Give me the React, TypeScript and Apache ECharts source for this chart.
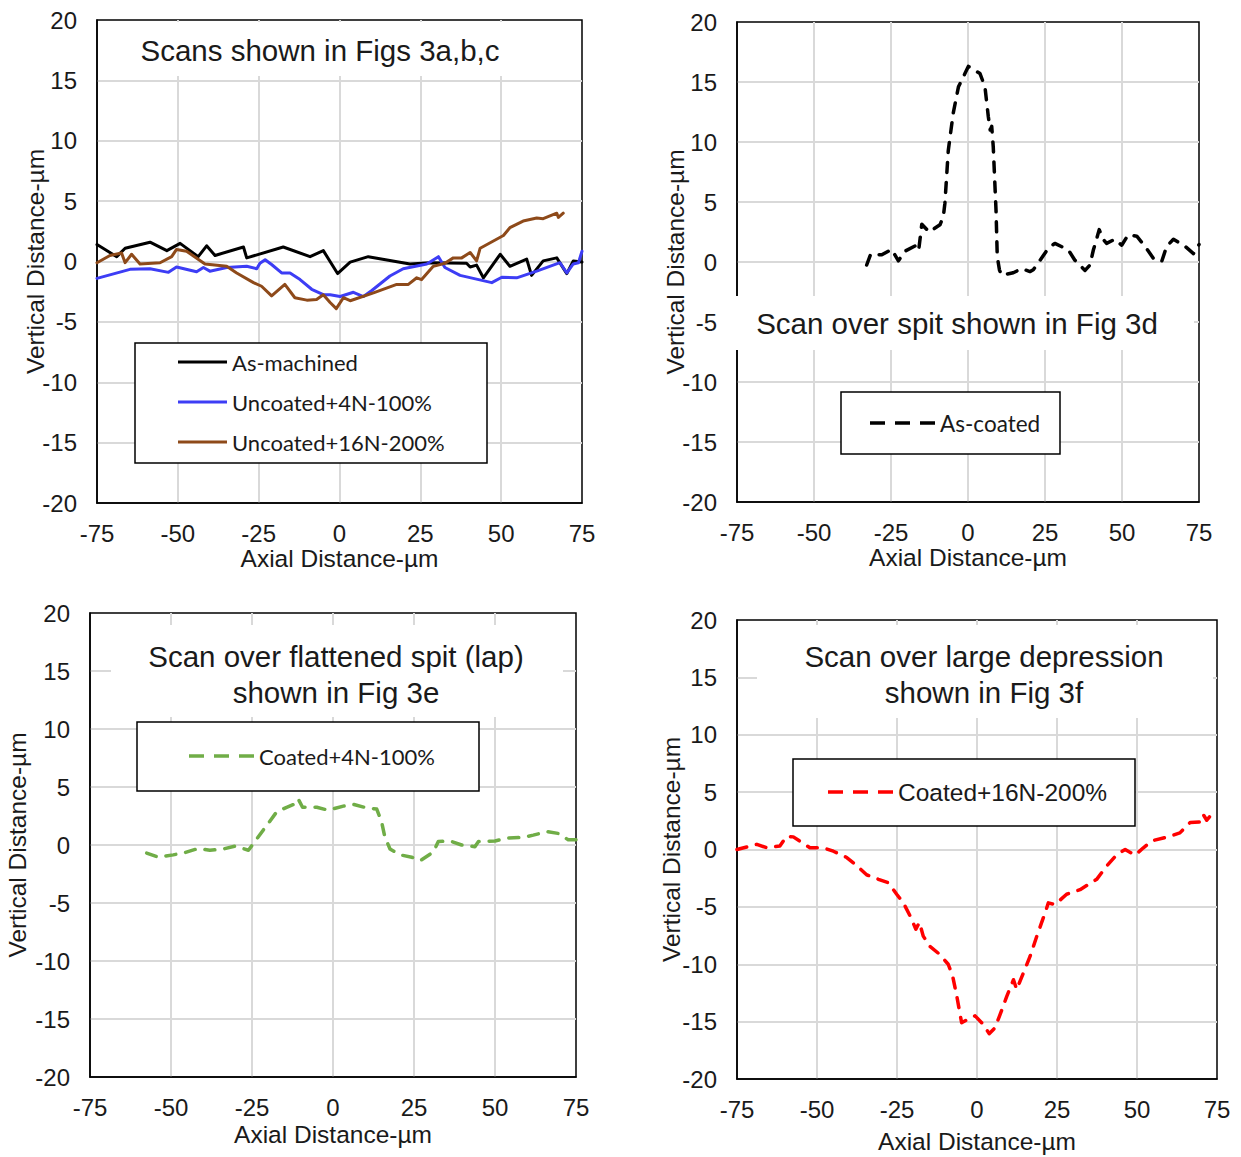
import React, { useEffect, useRef } from "react";
import * as echarts from "echarts";

// ---------- Data (µm) ----------
const xTickMin = -75;
const xTickMax = 75;
const yTickMin = -20;
const yTickMax = 20;

const asMachinedX = [-75, -68.9, -66.3, -58.6, -53.4, -49.3, -43.7, -41.1, -38.5, -29.7, -28.7, -17.4, -9.1, -5, -0.6, 3.3, 8.9, 21.8, 28, 39.3, 40.4, 42.4, 44.5, 49.7, 52.7, 57.9, 59.4, 63, 67.2, 70.3, 72.3, 75];
const asMachinedY = [1.4, 0.4, 1.1, 1.6, 0.9, 1.5, 0.4, 1.3, 0.5, 1.2, 0.3, 1.2, 0.4, 0.9, -1.0, -0.05, 0.4, -0.2, -0.1, -0.15, -0.45, -0.3, -1.35, 0.6, -0.4, 0.2, -1.15, 0.05, 0.3, -1.0, 0.05, -0.05];

const uncoated4NX = [-75, -64.8, -58.6, -52.9, -50.4, -44.2, -42.1, -40.1, -34.9, -28.7, -25.6, -24.6, -23, -21, -17.9, -15.3, -12.2, -8.6, -5, -2.9, 0.2, 4.3, 7.4, 10, 15.6, 19.7, 27, 30.6, 32.6, 37.3, 47.1, 50.2, 54.8, 61, 68.2, 70.3, 72.3, 73.9, 75];
const uncoated4NY = [-1.4, -0.65, -0.6, -0.9, -0.45, -0.85, -0.5, -0.8, -0.5, -0.4, -0.6, -0.15, 0.15, -0.25, -0.95, -0.95, -1.5, -2.3, -2.75, -2.75, -2.9, -2.55, -2.9, -2.4, -1.2, -0.6, -0.2, 0.4, -0.5, -1.15, -1.75, -1.3, -1.35, -0.8, -0.1, -0.95, -0.2, -0.1, 0.85];

const uncoated16NX = [-75, -71, -67.4, -66.3, -64.3, -61.7, -55.5, -51.9, -50.4, -47.3, -41.6, -34.9, -31.8, -26.6, -24.1, -21, -16.9, -13.8, -10.1, -7.1, -5, -2.9, -1, 1.2, 3.3, 10.5, 17.7, 21.3, 23.9, 25.4, 29, 32.6, 35.2, 37.8, 40.4, 42.4, 43.5, 50.7, 52.7, 56.8, 61, 63, 67.2, 67.7, 69.2];
const uncoated16NY = [-0.1, 0.5, 0.7, -0.1, 0.6, -0.2, -0.1, 0.4, 1.0, 0.85, -0.2, -0.4, -0.95, -1.75, -2.05, -2.85, -1.9, -3.0, -3.2, -3.15, -2.75, -3.4, -3.9, -3.0, -3.25, -2.6, -1.9, -1.9, -1.35, -1.5, -0.4, -0.15, 0.3, 0.3, 0.75, 0.05, 1.1, 2.15, 2.8, 3.35, 3.6, 3.55, 4.0, 3.65, 4.0];

const asCoatedX = [-32.9, -31.6, -28, -24.8, -22.6, -20.5, -16.7, -16, -15, -12.6, -9.1, -8, -7.5, -6.4, -4.8, -3.1, -1, 0.1, 3.9, 5.5, 6.6, 7.2, 7.7, 8.2, 9.1, 9.5, 10.2, 10.9, 14.7, 17.4, 20.1, 21.2, 23.4, 26.1, 28.2, 32.6, 34.7, 38, 39.6, 40.7, 41.8, 42.6, 43.7, 45, 47.7, 49.9, 52, 54.8, 57.5, 60.2, 62.9, 64.5, 66.7, 70.5, 73.2, 75];
const asCoatedY = [-0.25, 0.65, 0.6, 1.05, 0.1, 0.9, 1.4, 1.0, 3.15, 2.5, 3.1, 3.8, 4.9, 9.3, 12.4, 14.6, 15.7, 16.3, 15.7, 14.6, 12.1, 11.0, 11.3, 9.6, 4.3, 0.45, -0.65, -1.1, -0.9, -0.55, -0.8, -0.65, 0.15, 1.15, 1.55, 1.0, 0.15, -0.7, -0.25, 1.0, 1.95, 2.7, 1.95, 1.55, 1.9, 1.4, 2.25, 2.15, 1.3, 0.3, 0.05, 1.3, 1.9, 1.3, 0.7, 1.45];

const coated4NX = [-57.5, -53.9, -49.3, -45.7, -41.6, -38, -33.9, -30.2, -26.1, -24.1, -21.5, -20, -17.4, -14.3, -11.2, -10.7, -9.4, -5, -1.5, 3.2, 6.3, 10.4, 13.5, 15, 16, 17.6, 20.7, 24.3, 26.9, 31, 32.5, 36.1, 39.7, 43.8, 44.9, 50, 53.6, 58.7, 61.8, 66, 69.5, 72.6, 75];
const coated4NY = [-0.7, -1.05, -0.85, -0.65, -0.3, -0.45, -0.35, -0.1, -0.45, 0.3, 1.3, 1.85, 2.85, 3.25, 3.6, 3.95, 3.25, 3.25, 3.0, 3.35, 3.5, 3.2, 3.1, 2.0, 0.7, -0.35, -0.85, -1.05, -1.35, -0.6, 0.3, 0.35, 0, -0.15, 0.3, 0.35, 0.6, 0.65, 0.85, 1.15, 1.0, 0.45, 0.45];

const coated16NX = [-75, -68.8, -65.7, -61.6, -59.5, -57.4, -52.2, -48, -44.9, -40.7, -37.6, -34.5, -30.8, -27.7, -25.1, -23, -20.9, -19.1, -18, -16.8, -14.7, -11.6, -9, -7.6, -6.3, -4.8, -2.2, -0.6, 2, 3.8, 5.6, 7.2, 9.3, 11.4, 12.4, 14.5, 16.6, 18.7, 21.3, 22.3, 24.4, 28, 32.2, 37.4, 40.5, 43.7, 46.3, 49.4, 52, 54.6, 60.3, 63.4, 66.6, 69.7, 70.7, 71.8, 72.8];
const coated16NY = [0, 0.45, 0.15, 0.3, 1.15, 1.1, 0.15, 0.15, -0.15, -0.7, -1.4, -2.2, -2.6, -2.9, -3.9, -4.65, -5.8, -6.95, -6.35, -7.55, -8.45, -9.15, -10.0, -11.05, -12.8, -15.1, -14.7, -14.5, -15.25, -16.05, -15.55, -14.4, -12.8, -11.35, -12.2, -10.75, -9.3, -7.55, -5.5, -4.65, -4.8, -3.9, -3.5, -2.6, -1.45, -0.45, 0, -0.5, 0.15, 0.75, 1.15, 1.45, 2.35, 2.4, 3.05, 2.55, 2.9];

const xName = "Axial Distance-µm";
const yName = "Vertical Distance-µm";

const zip = (xs: number[], ys: number[]) => xs.map((x, i) => [x, ys[i]]);

const ARIAL = '"Liberation Sans", Arial, sans-serif';
const CALIBRI = 'Lato, "Open Sans", sans-serif';
const TXT = "#1a1a1a";

// ---------- Layout ----------
const grids = [
  { left: 97, top: 20, width: 485, height: 483, xGap: 43, yGap: 49 },
  { left: 737, top: 22, width: 462, height: 480, xGap: 43, yGap: 49 },
  { left: 90, top: 613, width: 486, height: 464, xGap: 45, yGap: 60 },
  { left: 737, top: 620, width: 480, height: 459, xGap: 50, yGap: 53 },
];

function buildOption() {
  const xAxes = grids.map((g, i) => ({
    type: "value",
    gridIndex: i,
    min: xTickMin,
    max: xTickMax,
    interval: 25,
    name: xName,
    nameLocation: "middle",
    nameGap: g.xGap,
    nameMoveOverlap: false,
    nameTextStyle: { fontFamily: ARIAL, fontSize: 24.5, color: TXT },
    axisLine: { show: true, onZero: false, lineStyle: { color: "#000", width: 1.5 } },
    axisTick: { show: false },
    axisLabel: { margin: 18, fontFamily: ARIAL, fontSize: 24, color: TXT },
    splitLine: { show: true, showMinLine: false, showMaxLine: false, lineStyle: { color: "#d9d9d9", width: 2 } },
  }));
  const yAxes = grids.map((g, i) => ({
    type: "value",
    gridIndex: i,
    min: yTickMin,
    max: yTickMax,
    interval: 5,
    name: yName,
    nameLocation: "middle",
    nameGap: g.yGap,
    nameMoveOverlap: false,
    nameTextStyle: { fontFamily: ARIAL, fontSize: 24.5, color: TXT },
    axisLine: { show: true, onZero: false, lineStyle: { color: "#000", width: 1.5 } },
    axisTick: { show: false },
    axisLabel: { margin: 20, fontFamily: ARIAL, fontSize: 24, color: TXT },
    splitLine: { show: true, showMinLine: false, showMaxLine: false, lineStyle: { color: "#d9d9d9", width: 2 } },
  }));

  const solid = (name: string, idx: number, data: number[][], color: string) => ({
    type: "line",
    name,
    xAxisIndex: idx,
    yAxisIndex: idx,
    data,
    showSymbol: false,
    smooth: false,
    lineStyle: { color, width: 3, join: "round", cap: "round" },
    z: 3,
  });
  const dashed = (name: string, idx: number, data: number[][], color: string) => ({
    type: "line",
    name,
    xAxisIndex: idx,
    yAxisIndex: idx,
    data,
    showSymbol: false,
    smooth: false,
    lineStyle: { color, width: 3.5, type: [10, 10], cap: "round", join: "round" },
    z: 3,
  });

  const series = [
    solid("As-machined", 0, zip(asMachinedX, asMachinedY), "#000000"),
    solid("Uncoated+4N-100%", 0, zip(uncoated4NX, uncoated4NY), "#3d3df5"),
    solid("Uncoated+16N-200%", 0, zip(uncoated16NX, uncoated16NY), "#8e4a1a"),
    dashed("As-coated", 1, zip(asCoatedX, asCoatedY), "#000000"),
    dashed("Coated+4N-100%", 2, zip(coated4NX, coated4NY), "#70ad47"),
    dashed("Coated+16N-200%", 3, zip(coated16NX, coated16NY), "#ff0000"),
  ];

  const mask = (x: number, y: number, w: number, h: number) => ({
    type: "rect",
    z: 1,
    silent: true,
    shape: { x, y, width: w, height: h },
    style: { fill: "#ffffff", stroke: null },
  });
  const title = (text: string, x: number, y: number) => ({
    type: "text",
    z: 10,
    x,
    y,
    style: {
      text,
      fill: TXT,
      fontFamily: ARIAL,
      fontSize: 29.5,
      textAlign: "center",
      textVerticalAlign: "middle",
      align: "center",
      verticalAlign: "middle",
    },
  });
  const box = (x1: number, y1: number, x2: number, y2: number) => ({
    type: "rect",
    z: 10,
    shape: { x: x1, y: y1, width: x2 - x1, height: y2 - y1 },
    style: { fill: "#ffffff", stroke: "#000000", lineWidth: 1.5 },
  });
  const sample = (x1: number, x2: number, y: number, color: string, dash: boolean) => ({
    type: "line",
    z: 11,
    shape: { x1, y1: y, x2, y2: y },
    style: { stroke: color, lineWidth: dash ? 3.5 : 3, lineDash: dash ? [15, 10] : null },
  });
  const label = (text: string, x: number, y: number, family: string, size: number) => ({
    type: "text",
    z: 11,
    x,
    y,
    style: {
      text,
      fill: TXT,
      fontFamily: family,
      fontSize: size,
      textAlign: "left",
      textVerticalAlign: "middle",
      align: "left",
      verticalAlign: "middle",
    },
  });

  const elements = [
    // title masks (white background of the title boxes)
    mask(99, 22, 481, 54),
    mask(735, 296, 459, 54),
    mask(111, 625, 452, 92),
    mask(757, 625, 456, 93),
    // titles
    title("Scans shown in Figs 3a,b,c", 320, 50),
    title("Scan over spit shown in Fig 3d", 957, 323),
    title("Scan over flattened spit (lap)", 336, 656),
    title("shown in Fig 3e", 336, 692),
    title("Scan over large depression", 984, 656),
    title("shown in Fig 3f", 984, 692),
    // legend 1
    box(135, 343, 487, 463),
    sample(178, 227, 362, "#000000", false),
    label("As-machined", 232, 362, CALIBRI, 22),
    sample(178, 227, 402, "#3d3df5", false),
    label("Uncoated+4N-100%", 232, 402, CALIBRI, 22),
    sample(178, 227, 442, "#8e4a1a", false),
    label("Uncoated+16N-200%", 232, 442, CALIBRI, 22),
    // legend 2
    box(841, 392, 1060, 454),
    sample(870, 935, 423, "#000000", true),
    label("As-coated", 940, 423, CALIBRI, 22.5),
    // legend 3
    box(137, 722, 479, 791),
    sample(189, 254, 756, "#70ad47", true),
    label("Coated+4N-100%", 259, 756, CALIBRI, 22),
    // legend 4
    box(793, 759, 1135, 826),
    sample(828, 893, 792, "#ff0000", true),
    label("Coated+16N-200%", 898, 792, ARIAL, 24.5),
  ];

  return {
    animation: false,
    backgroundColor: "#ffffff",
    grid: grids.map((g) => ({
      left: g.left,
      top: g.top,
      width: g.width,
      height: g.height,
      show: true,
      borderColor: "#000000",
      borderWidth: 1.5,
      backgroundColor: "transparent",
      containLabel: false,
    })),
    xAxis: xAxes,
    yAxis: yAxes,
    series,
    graphic: { elements },
  };
}

export default function App() {
  const ref = useRef<HTMLDivElement | null>(null);
  useEffect(() => {
    if (!ref.current) return;
    const chart = echarts.init(ref.current, undefined, { renderer: "svg" });
    chart.setOption(buildOption() as any);
    return () => chart.dispose();
  }, []);
  return (
    <div
      ref={ref}
      style={{ position: "absolute", left: 0, top: 0, width: 1241, height: 1157, background: "#fff" }}
    />
  );
}
